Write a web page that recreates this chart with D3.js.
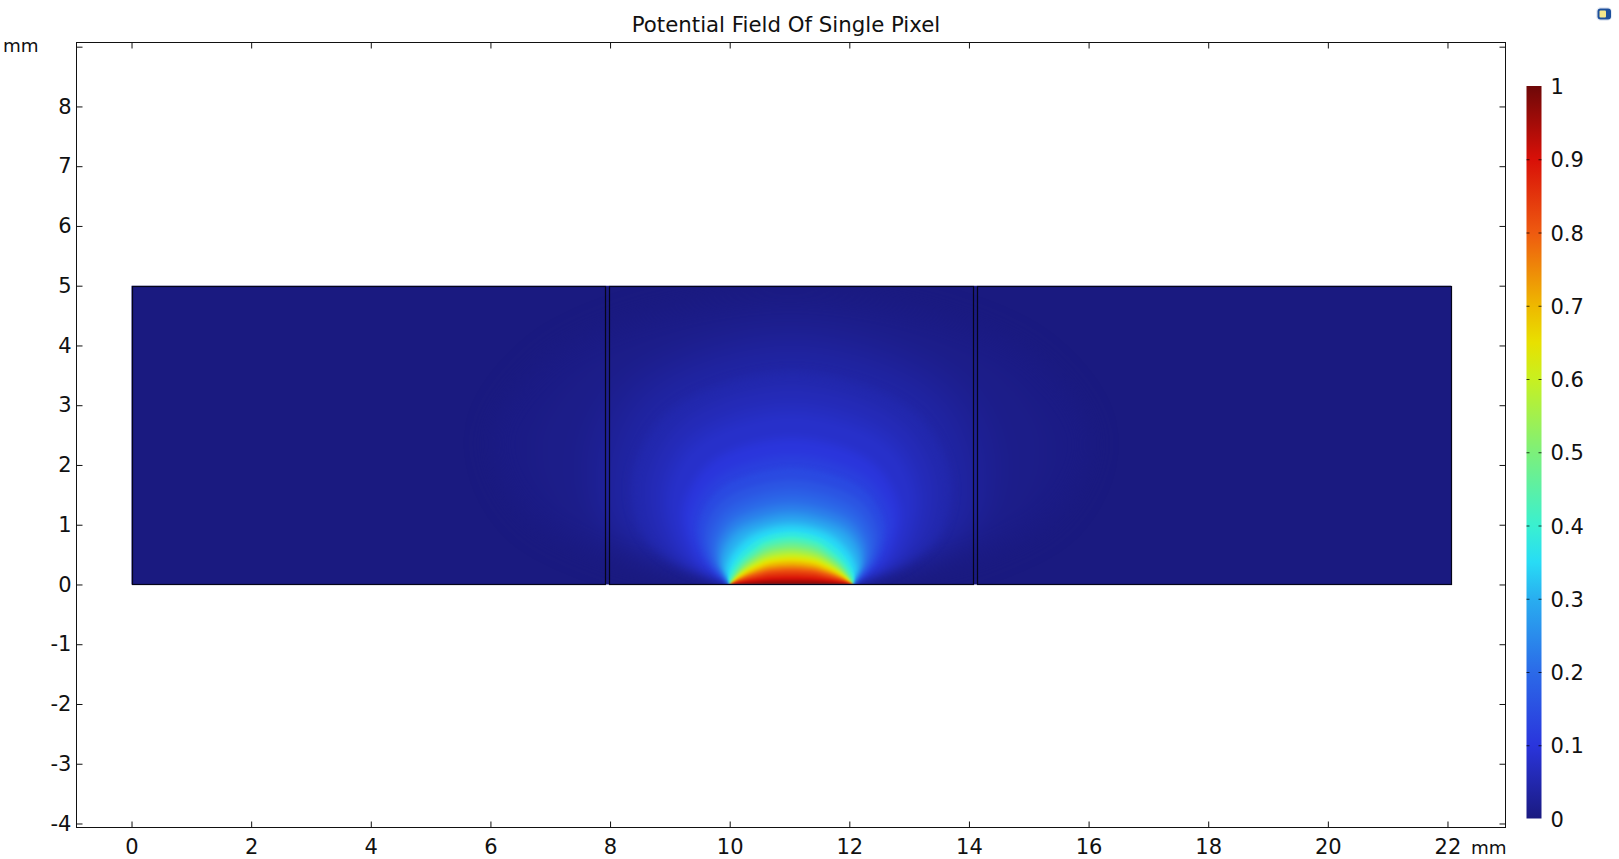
<!DOCTYPE html>
<html><head><meta charset="utf-8">
<script src="https://cdn.jsdelivr.net/npm/d3@7"></script>
<style>html,body{margin:0;padding:0;background:#fff;overflow:hidden}svg{display:block}text{font-family:"DejaVu Sans",sans-serif;fill:#111}</style>
</head><body><svg id="c" width="1619" height="859"></svg>
<script>
const chartTitle = "Potential Field Of Single Pixel";
const unitLabel = "mm";
const xTicks = [0,2,4,6,8,10,12,14,16,18,20,22];
const yTicks = [-4,-3,-2,-1,0,1,2,3,4,5,6,7,8,9];
const yLabelled = [-4,-3,-2,-1,0,1,2,3,4,5,6,7,8];
const barTicks = [0,0.1,0.2,0.3,0.4,0.5,0.6,0.7,0.8,0.9,1];
const blockEdgesMm = [0,7.92,7.985,14.07,14.14,22.06];
const blockTopMm = 5;
const electrodeMm = [10,12.06];
const colourStops = [0,0.1,0.2,0.3,0.35,0.4,0.5,0.6,0.65,0.7,0.8,0.9,1];
const colourValues = ["#1a1a80","#2a35dc","#2b6ae8","#29aef0","#28dcf5","#3af0d0","#7df07a","#c8f020","#e8e000","#eeb800","#ee5a10","#d81008","#6e0808"];
// iso-potential lines (heights and half-widths in mm)
const isoLevels = [0.005,0.01,0.02,0.03,0.04,0.05,0.06,0.07,0.08,0.10,0.12,0.14,0.16,0.18,0.20,0.225,0.25,0.275,0.30,0.325,0.35,0.375,0.40,0.425,0.45,0.475,0.50,0.525,0.55,0.575,0.60,0.625,0.65,0.675,0.70,0.725,0.75,0.775,0.80,0.825,0.85,0.875,0.90,0.925,0.95,0.975,1];
const isoApex =   [4.90,4.70,4.40,4.10,3.82,3.55,3.30,3.05,2.85,2.45,2.15,1.95,1.75,1.60,1.48,1.36,1.25,1.17,1.09,1.02,0.95,0.88,0.81,0.77,0.72,0.68,0.64,0.60,0.57,0.53,0.50,0.465,0.435,0.40,0.37,0.34,0.315,0.285,0.26,0.23,0.195,0.16,0.12,0.09,0.06,0.03,0.01];
const isoWidth10 = [3.2,2.8,2.4,2.15,2.0,1.95,1.8,1.68,1.58,1.42,1.32,1.26,1.21,1.17,1.14,1.12,1.10,1.09,1.08,1.07,1.06,1.05,1.04,1.03,1.02,1.01,1.00,0.99,0.99,0.99,0.99,0.99,0.99,0.98,0.98,0.98,0.98,0.98,0.98,0.98,0.98,0.98,0.98,0.98,0.98,0.98,0.98];
const isoWidth25 = [4.5,3.9,3.3,3.0,2.75,2.5,2.25,2.05,1.9,1.68,1.55,1.46,1.38,1.33,1.28,1.23,1.20,1.17,1.15,1.10,1.07,1.03,1.00,0.98,0.96,0.95,0.94,0.93,0.93,0.93,0.92,0.92,0.92,0.91,0.91,0.91,0.91,0.90,0.90,0.90,0.90,0.90,0.90,0.90,0.90,0.90,0.90];
const isoWidth50 = [5.0,4.3,3.5,3.1,2.85,2.65,2.4,2.2,2.05,1.82,1.67,1.55,1.45,1.37,1.30,1.24,1.19,1.14,1.10,1.02,0.97,0.91,0.86,0.84,0.82,0.81,0.80,0.79,0.78,0.78,0.77,0.77,0.76,0.76,0.75,0.75,0.75,0.74,0.74,0.74,0.73,0.73,0.73,0.73,0.73,0.73,0.73];
const isoWidth75 = [4.2,3.6,3.0,2.7,2.45,2.25,2.05,1.9,1.78,1.55,1.42,1.32,1.24,1.16,1.10,1.04,0.99,0.94,0.90,0.80,0.75,0.68,0.63,0.61,0.59,0.58,0.58,0.57,0.57,0.56,0.56,0.55,0.55,0.55,0.54,0.54,0.54,0.53,0.53,0.53,0.52,0.52,0.52,0.52,0.52,0.52,0.52];
const isoWidth90 = [2.8,2.4,2.0,1.8,1.65,1.52,1.40,1.30,1.22,1.08,0.98,0.90,0.84,0.78,0.73,0.68,0.64,0.60,0.57,0.53,0.50,0.46,0.43,0.42,0.41,0.40,0.39,0.39,0.38,0.38,0.38,0.38,0.38,0.37,0.37,0.37,0.37,0.37,0.37,0.37,0.37,0.37,0.37,0.37,0.37,0.37,0.37];

const svg = d3.select("#c");
const frame = {l:76.5, r:1505.5, t:42.5, b:827.5};
const x = d3.scaleLinear().domain([-0.92,22.97]).range([frame.l,frame.r]);
const y = d3.scaleLinear().domain([-4.067,9.07]).range([frame.b,frame.t]);
const colour = d3.scaleLinear().domain(colourStops).range(colourValues).interpolate(d3.interpolateRgb);

const defs = svg.append("defs");
defs.append("clipPath").attr("id","blk").append("rect")
  .attr("x",x(blockEdgesMm[0])).attr("y",y(blockTopMm))
  .attr("width",x(blockEdgesMm[5])-x(blockEdgesMm[0])).attr("height",y(0)-y(blockTopMm));
[["softA",12],["softB",5],["softC",2.5],["softD",0.8]].forEach(f=>{
  defs.append("filter").attr("id",f[0]).attr("filterUnits","userSpaceOnUse").attr("x",0).attr("y",200).attr("width",1619).attr("height",500)
    .attr("color-interpolation-filters","sRGB")
    .append("feGaussianBlur").attr("stdDeviation",f[1]);
});

// field
const field = svg.append("g").attr("clip-path","url(#blk)");
field.append("rect").attr("x",x(-0.5)).attr("y",y(5.5)).attr("width",x(22.5)-x(-0.5)).attr("height",y(-0.5)-y(5.5)).attr("fill",colour(0));
const mid = (electrodeMm[0]+electrodeMm[1])/2;
const half = (electrodeMm[1]-electrodeMm[0])/2;
const iso = d3.line().x(d=>x(d[0])).y(d=>y(d[1])).curve(d3.curveCatmullRom.alpha(0.5));
const isoPath = (d,i)=>{
  const h=isoApex[i], f=[[isoWidth10[i],.1],[isoWidth25[i],.25],[isoWidth50[i],.5],[isoWidth75[i],.75],[isoWidth90[i],.9]];
  const left=f.map(p=>[mid-p[0],h*p[1]]), right=f.slice().reverse().map(p=>[mid+p[0],h*p[1]]);
  return iso([[mid-half,0],...left,[mid,h],...right,[mid+half,0]])+"Z";
};
[["softA",0,0.05],["softB",0.05,0.14],["softC",0.14,0.36],["softD",0.36,1.01]].forEach(t=>{
  field.append("g").attr("filter",`url(#${t[0]})`).selectAll("path")
    .data(isoLevels.map((d,i)=>({d,i})).filter(o=>o.d>=t[1]&&o.d<t[2])).join("path")
    .attr("fill",o=>colour(o.d)).attr("d",o=>isoPath(o.d,o.i));
});

// block outlines
const outline = svg.append("g").attr("fill","none").attr("stroke","#05051a").attr("stroke-width",1.2);
[[0,1],[2,3],[4,5]].forEach(p=>{
  outline.append("rect").attr("x",Math.round(x(blockEdgesMm[p[0]]))+.5).attr("y",Math.round(y(blockTopMm))+.5)
    .attr("width",Math.round(x(blockEdgesMm[p[1]]))-Math.round(x(blockEdgesMm[p[0]])))
    .attr("height",Math.round(y(0))-Math.round(y(blockTopMm)));
});

// axes
const fmt = d=>yLabelled.includes(d)?String(d):"";
function style(g){g.select(".domain").remove();g.selectAll("line").attr("stroke","#111");g.selectAll("text").attr("font-family",'"DejaVu Sans",sans-serif').attr("font-size",21).attr("fill","#111");}
const ax = svg.append("g");
ax.append("g").attr("transform",`translate(0,${frame.b})`).call(d3.axisBottom(x).tickValues(xTicks).tickSize(-6).tickPadding(12).tickFormat(String)).call(style);
ax.append("g").attr("transform",`translate(0,${frame.t})`).call(d3.axisTop(x).tickValues(xTicks).tickSize(-6).tickFormat("")).call(style);
ax.append("g").attr("transform",`translate(${frame.l},0)`).call(d3.axisLeft(y).tickValues(yTicks).tickSize(-6).tickPadding(5).tickFormat(fmt)).call(style);
ax.append("g").attr("transform",`translate(${frame.r},0)`).call(d3.axisRight(y).tickValues(yTicks).tickSize(-6).tickFormat("")).call(style);
svg.append("rect").attr("x",frame.l).attr("y",frame.t).attr("width",frame.r-frame.l).attr("height",frame.b-frame.t).attr("fill","none").attr("stroke","#111");

svg.append("text").attr("x",786).attr("y",32).attr("text-anchor","middle").attr("font-size",21.3).text(chartTitle);
svg.append("text").attr("x",3).attr("y",52).attr("font-size",18.3).text(unitLabel);
svg.append("text").attr("x",1471).attr("y",854).attr("font-size",18.3).text(unitLabel);

// colour bar
const bar = {l:1526.5,r:1541.5,t:86,b:818.5};
const cy = d3.scaleLinear().domain([0,1]).range([bar.b,bar.t]);
const grad = defs.append("linearGradient").attr("id","jet").attr("x1",0).attr("y1",1).attr("x2",0).attr("y2",0);
colourStops.forEach((s,i)=>grad.append("stop").attr("offset",s).attr("stop-color",colourValues[i]));
svg.append("rect").attr("x",bar.l).attr("y",bar.t).attr("width",bar.r-bar.l).attr("height",bar.b-bar.t).attr("fill","url(#jet)");
const cg = svg.append("g").attr("transform",`translate(${bar.r},0)`)
  .call(d3.axisRight(cy).tickValues(barTicks).tickSize(-3).tickPadding(9).tickFormat(String)).call(style);
cg.selectAll("text").attr("y",1);
cg.selectAll("line").attr("stroke","#000").attr("stroke-opacity",d=>(d===0||d===1)?0:.75);
svg.append("g").attr("transform",`translate(${bar.l},0)`)
  .call(d3.axisLeft(cy).tickValues(barTicks).tickSize(-3).tickFormat("")).call(style)
  .selectAll("line").attr("stroke","#000").attr("stroke-opacity",d=>(d===0||d===1)?0:.75);

// corner badge
svg.append("rect").attr("x",1596).attr("y",7).attr("width",16).attr("height",14).attr("rx",5).attr("fill","#e6ebf4");
svg.append("rect").attr("x",1597.5).attr("y",8.5).attr("width",13.5).attr("height",11).attr("rx",3).attr("fill","#1c4f9c");
svg.append("rect").attr("x",1599.5).attr("y",10.5).attr("width",6.5).attr("height",7).attr("rx",1).attr("fill","#f4e58a");
</script></body></html>
